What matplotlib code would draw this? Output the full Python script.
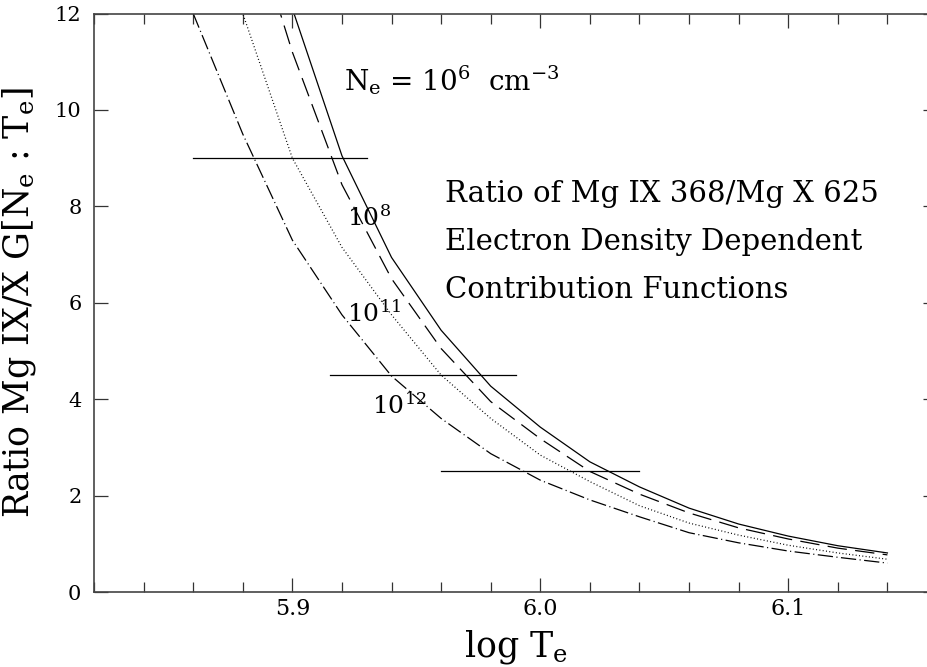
import matplotlib
matplotlib.use("Agg")
import matplotlib.pyplot as plt
import numpy as np
from matplotlib.ticker import MultipleLocator

plt.rcParams['font.family'] = ['DejaVu Serif']
plt.rcParams['mathtext.fontset'] = 'dejavuserif'
plt.rcParams['lines.scale_dashes'] = False

# log Te grid
log_te = [5.86, 5.88, 5.90, 5.92, 5.94, 5.96, 5.98, 6.00, 6.02, 6.04, 6.06, 6.08, 6.10, 6.12, 6.14]

# ratio curves for each electron density
ne_1e6 = [18.0, 15.0, 12.1, 9.05, 6.94, 5.43, 4.27, 3.42, 2.70, 2.18, 1.74, 1.41, 1.16, 0.96, 0.81]
ne_1e8 = [17.5, 14.5, 11.2, 8.45, 6.50, 5.05, 3.95, 3.18, 2.50, 2.03, 1.64, 1.33, 1.10, 0.91, 0.77]
ne_1e11 = [15.0, 12.0, 9.0, 7.15, 5.75, 4.50, 3.60, 2.84, 2.29, 1.79, 1.43, 1.18, 0.97, 0.81, 0.68]
ne_1e12 = [12.0, 9.5, 7.3, 5.75, 4.48, 3.6, 2.87, 2.32, 1.91, 1.56, 1.23, 1.02, 0.85, 0.72, 0.60]

# horizontal bars: (start, end, level)
bars = [(5.86, 5.93, 9.0), (5.915, 5.99, 4.5), (5.96, 6.04, 2.5)]

fig = plt.figure(figsize=(9.28, 6.67), dpi=100)
ax = fig.add_axes([94/928, 1 - 592/667, 843/928, 578.5/667])

lw = 0.9
ax.plot(log_te, ne_1e6, color='black', lw=lw, linestyle='-')
ax.plot(log_te, ne_1e8, color='black', lw=lw, linestyle=(0, (14, 6)))
ax.plot(log_te, ne_1e11, color='black', lw=lw, linestyle=(0, (0.7, 1.7)))
ax.plot(log_te, ne_1e12, color='black', lw=lw, linestyle=(0, (11, 2.5, 0.8, 2.5)))

for x0, x1, lev in bars:
    ax.plot([x0, x1], [lev, lev], color='black', lw=lw)

ax.set_xlim(5.82, 6.16)
ax.set_ylim(0, 12)
ax.xaxis.set_minor_locator(MultipleLocator(0.02))
ax.yaxis.set_major_locator(MultipleLocator(2))
ax.set_xticks([5.9, 6.0, 6.1])
ax.set_xticklabels(['5.9', '6.0', '6.1'])
ax.tick_params(which='both', direction='in', top=True, right=True, width=0.9, color='#333333')
ax.tick_params(which='major', length=10)
ax.tick_params(which='minor', length=7)
ax.tick_params(axis='x', labelsize=16, pad=4)
ax.tick_params(axis='y', labelsize=15, pad=9)
for s in ax.spines.values():
    s.set_linewidth(1.2)
    s.set_color('#444444')

ax.set_xlabel(r'log T$_{\rm e}$', fontsize=25, labelpad=6)
ax.set_ylabel(r'Ratio Mg IX/X G[N$_{\rm e}$ : T$_{\rm e}$]', fontsize=25, labelpad=12)

ax.text(5.921, 10.4, r'N$_{\rm e}$ = 10$^{6}$  cm$^{-3}$', fontsize=20)
ax.text(5.922, 7.6, r'10$^{8}$', fontsize=18)
ax.text(5.922, 5.6, r'10$^{11}$', fontsize=18)
ax.text(5.932, 3.7, r'10$^{12}$', fontsize=18)
ax.text(5.9615, 8.1, 'Ratio of Mg IX 368/Mg X 625', fontsize=21)
ax.text(5.9615, 7.1, 'Electron Density Dependent', fontsize=21)
ax.text(5.9615, 6.1, 'Contribution Functions', fontsize=21)

fig.savefig('out.png', dpi=100)
